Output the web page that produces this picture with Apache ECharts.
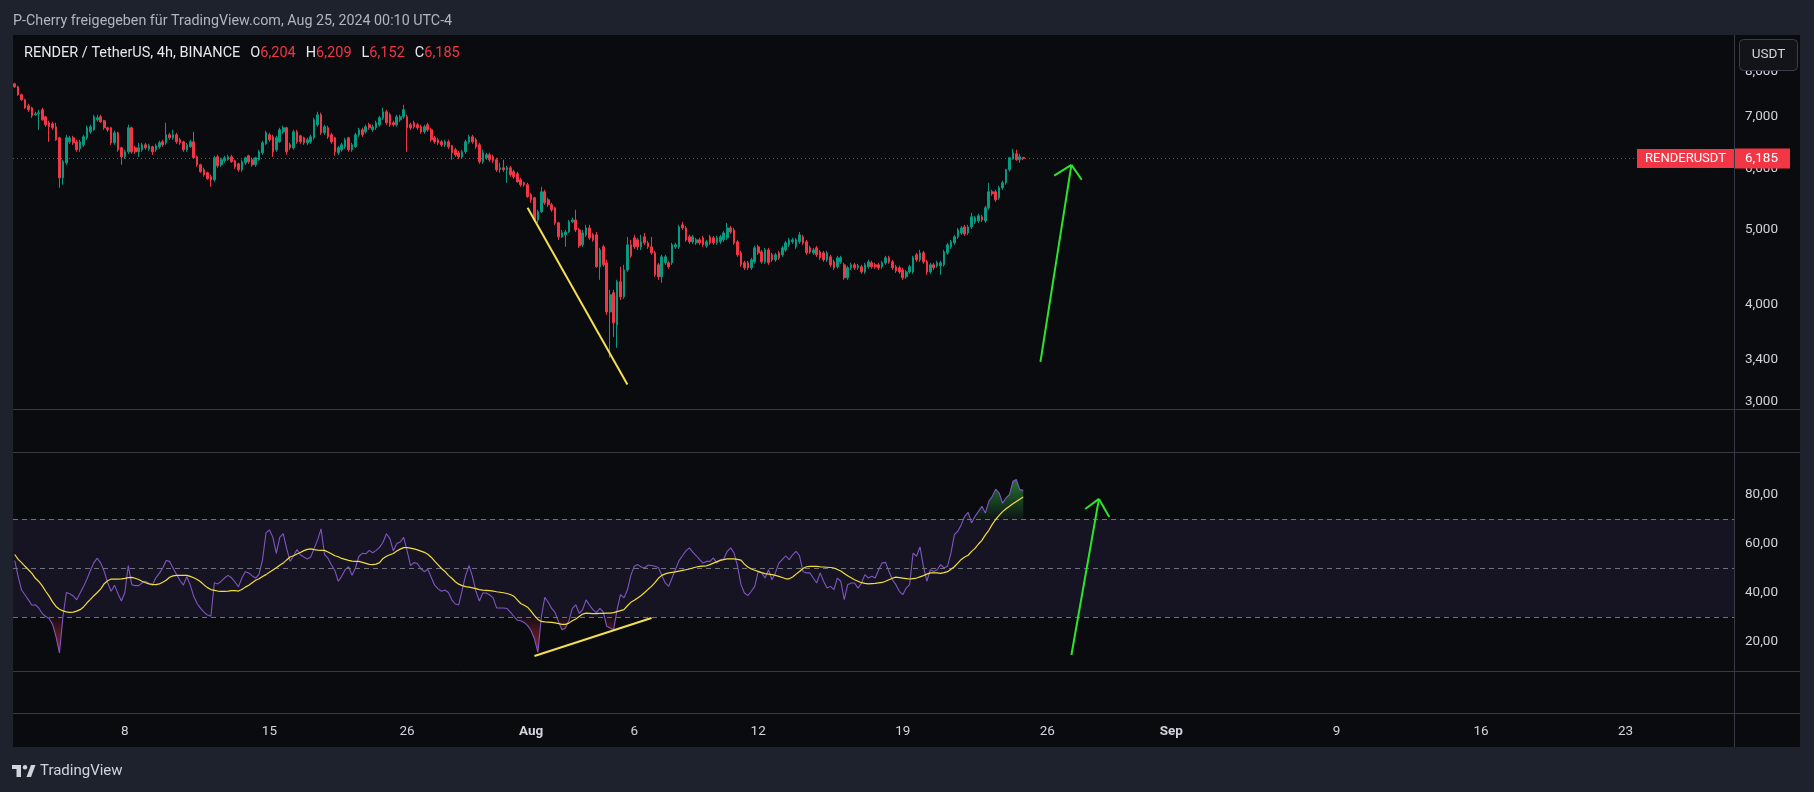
<!DOCTYPE html>
<html><head><meta charset="utf-8">
<script src="https://cdn.jsdelivr.net/npm/echarts@6/dist/echarts.min.js"></script>
<style>html,body{margin:0;padding:0;background:#1e222d;}#c{width:1814px;height:792px;}</style>
</head><body><div id="c"></div>
<script>
// ---------- DATA ----------
// 4h candles [open, high, low, close]
const ohlc = [
[7722,7745,7631,7653],[7653,7676,7453,7475],[7475,7497,7341,7363],[7363,7386,7168,7189],[7232,7275,7105,7147],
[7189,7211,6979,7021],[7042,7105,7021,7063],[7063,7147,6734,7084],[7147,7189,6918,6938],[7000,7021,6795,6836],
[6877,6918,6498,6795],[6856,6897,6734,6775],[6795,6877,6518,6537],[6576,6596,5669,5839],[5839,6160,5719,6123],
[6105,6635,6068,6576],[6498,6615,6460,6576],[6576,6615,6440,6479],[6498,6537,6308,6346],[6364,6537,6308,6498],
[6440,6635,6402,6596],[6576,6816,6537,6775],[6694,6836,6655,6795],[6734,7042,6714,7000],[6938,7042,6897,6979],
[7000,7042,6877,6897],[6918,6938,6734,6775],[6775,6795,6694,6734],[6775,6795,6440,6479],[6479,6714,6440,6674],
[6674,6694,6308,6346],[6383,6402,6068,6215],[6215,6346,6178,6308],[6308,6836,6271,6775],[6775,6795,6271,6308],
[6383,6421,6271,6308],[6308,6479,6215,6383],
[6346,6479,6308,6440],[6440,6479,6346,6383],[6364,6460,6327,6421],[6402,6421,6252,6308],[6346,6460,6308,6421],[6402,6518,6364,6479],[6498,6537,6402,6440],
[6479,6877,6440,6635],[6635,6674,6537,6576],[6576,6734,6537,6635],[6635,6674,6460,6498],[6537,6576,6440,6479],
[6498,6518,6308,6346],[6346,6479,6308,6440],[6402,6537,6383,6498],[6498,6694,6178,6197],[6215,6234,6033,6068],
[6068,6087,5927,5944],[5980,6015,5857,5891],[5927,5944,5805,5822],[5857,5891,5686,5805],[5805,6234,5771,6197],
[6215,6252,6015,6050],[6068,6197,6033,6160],[6142,6234,6105,6197],[6160,6252,6142,6215],[6215,6252,6105,6123],
[6142,6160,5997,6033],[6087,6105,5944,5980],[5980,6160,5944,6123],[6105,6215,6068,6197],[6234,6252,6087,6123],[6160,6197,6033,6068],
[6068,6215,6033,6197],[6160,6346,6142,6308],[6289,6518,6252,6479],[6460,6714,6440,6674],[6635,6674,6498,6537],
[6596,6635,6215,6308],[6346,6615,6308,6576],[6498,6775,6479,6734],[6694,6816,6655,6775],[6775,6795,6252,6308],
[6440,6479,6346,6383],[6383,6734,6346,6694],[6694,6734,6460,6498],[6615,6635,6460,6498],[6576,6596,6440,6479],
[6479,6576,6440,6537],[6498,6635,6460,6596],[6576,6979,6537,6938],[6836,7105,6795,7042],[7042,7084,6635,6674],
[6674,6836,6635,6795],[6775,6816,6556,6596],[6635,6674,6460,6498],[6576,6596,6234,6308],[6289,6421,6252,6383],
[6346,6479,6308,6440],[6402,6576,6364,6537],[6576,6596,6308,6346],[6346,6479,6308,6440],[6402,6674,6383,6635],
[6635,6775,6596,6734],
[6734,6775,6596,6635],[6694,6836,6655,6795],[6836,6877,6734,6775],[6734,6836,6694,6795],[6775,6918,6734,6877],
[6836,7021,6795,6979],[6979,7189,6938,7105],[7105,7147,6836,6877],[7042,7084,6795,6836],[6877,6918,6795,6836],
[6836,7042,6795,7000],[6938,7042,6897,7000],[7000,7253,6959,7147],[7000,7042,6308,6775],[6836,6877,6734,6775],
[6877,6918,6755,6795],[6836,6877,6734,6775],[6795,6836,6655,6694],[6694,6836,6655,6795],[6836,6877,6694,6734],
[6734,6775,6498,6537],[6576,6615,6460,6498],[6537,6576,6440,6479],[6498,6537,6402,6440],[6440,6537,6402,6498],
[6498,6537,6364,6402],[6421,6440,6160,6289],[6346,6383,6215,6252],[6289,6327,6178,6215],[6215,6346,6178,6308],
[6308,6537,6271,6498],[6498,6635,6460,6596],[6596,6635,6460,6498],[6537,6576,6364,6402],
[6440,6479,6087,6123],[6123,6346,6087,6289],[6197,6289,6160,6252],[6252,6289,6123,6160],[6215,6252,6105,6142],
[6160,6197,5944,5980],[5980,6105,5927,6015],[6015,6160,5944,5980],[5980,6050,5753,6015],[6015,6050,5857,5891],
[5944,5980,5822,5857],[5909,5944,5753,5771],[5805,5839,5686,5719],[5753,5771,5686,5719],[5719,5753,5502,5519],
[5552,5584,5420,5468],[5502,5519,5121,5151],[5151,5308,5106,5277],[5277,5686,5261,5600],[5600,5633,5388,5420],
[5468,5502,5356,5388],[5388,5420,5277,5308],[5340,5356,5076,5106],[5106,5121,4854,4898],[4898,5000,4883,4956],
[4927,5000,4754,4970],[4970,5151,4956,5121],[5121,5183,5106,5151],[5151,5308,4970,5000],[5000,5030,4740,4769],
[4783,5000,4754,4956],[4927,5076,4898,5030],[5030,5076,4854,4883],[4927,4956,4826,4854],[4927,4970,4468,4481],
[4481,4740,4310,4711],[4754,4783,4481,4507],[4534,4574,3883,3918],[3918,4183,3420,4122],[4148,4183,3638,3792],
[3769,4310,3521,4285],[4285,4481,4060,4098],[4098,4507,4074,4439],[4439,4898,4413,4783],[4783,4854,4602,4629],
[4883,4927,4726,4754],[4854,4883,4711,4754],[4754,4927,4711,4826],[4898,4956,4783,4811],[4811,4840,4726,4754],
[4754,4898,4643,4670],[4670,4697,4349,4375],[4507,4534,4310,4349],[4349,4643,4272,4615],[4534,4643,4507,4615],
[4534,4561,4455,4481],[4534,4811,4507,4783],[4754,4811,4726,4783],[4754,5076,4726,5045],[5076,5121,5000,5030],
[5030,5060,4826,4854],[4898,4927,4797,4826],[4826,4927,4797,4898],[4811,4883,4783,4854],[4854,4883,4783,4811],
[4883,4912,4754,4783],[4769,4854,4740,4826],[4898,4927,4783,4811],[4883,4912,4783,4811],[4811,4912,4783,4883],
[4826,4927,4797,4898],[4854,4985,4826,4956],[4883,5106,4854,5030],[5030,5060,4941,4970],[5000,5030,4783,4811],
[4826,4854,4615,4643],[4670,4697,4481,4507],[4534,4561,4439,4468],[4534,4561,4439,4468],[4468,4602,4439,4574],
[4547,4769,4520,4740],[4754,4783,4643,4670],[4684,4711,4520,4547],[4547,4740,4520,4711],[4711,4740,4507,4534],
[4643,4670,4547,4574],[4574,4670,4547,4643],[4670,4697,4574,4602],[4643,4769,4615,4740],[4711,4840,4684,4811],
[4783,4883,4754,4854],[4826,4883,4797,4854],[4754,4883,4726,4854],[4826,4970,4797,4927],[4898,4927,4783,4811],
[4826,4854,4643,4670],[4740,4769,4656,4684],[4670,4740,4643,4711],[4740,4769,4615,4643],[4684,4711,4574,4602],
[4670,4697,4547,4574],[4574,4697,4547,4670],[4615,4643,4481,4507],[4547,4574,4439,4468],[4481,4629,4455,4602],
[4547,4629,4520,4602],[4507,4534,4310,4336],[4336,4494,4310,4468],[4468,4534,4439,4507],[4507,4534,4439,4468],
[4468,4520,4439,4494],[4481,4507,4388,4413],[4413,4534,4388,4507],[4481,4574,4455,4547],[4534,4561,4455,4481],
[4507,4534,4455,4481],[4507,4534,4439,4468],[4481,4561,4455,4534],[4534,4629,4507,4602],[4602,4629,4520,4547],
[4547,4574,4439,4468],[4481,4507,4401,4426],[4468,4494,4388,4413],[4439,4468,4310,4336],
[4349,4439,4323,4413],[4413,4507,4388,4481],[4413,4629,4388,4602],[4643,4670,4547,4574],[4574,4711,4547,4670],
[4670,4697,4520,4547],[4547,4574,4375,4413],[4413,4534,4388,4507],[4507,4534,4439,4468],[4494,4561,4468,4534],
[4494,4561,4375,4534],[4507,4711,4481,4684],[4670,4811,4643,4783],[4754,4854,4726,4826],[4811,4927,4783,4898],
[4898,5030,4869,5000],[4956,5060,4927,5030],[5045,5076,4912,4941],[4956,5076,4927,5045],[5045,5261,5015,5199],
[5121,5214,5091,5183],[5136,5246,5106,5214],[5199,5230,5121,5151],[5136,5372,5106,5340],[5340,5753,5308,5600],
[5600,5633,5535,5568],[5600,5633,5436,5468],[5502,5702,5468,5669],[5669,5788,5633,5753],[5753,5997,5719,5980],
[5980,6215,5944,6197],[6178,6364,6160,6289],[6271,6346,6142,6160],[6160,6271,6105,6215],[6204,6209,6152,6185]
];

// RSI (14) values per candle
const rsi = [
53,46.5,41,39,37,34.8,35,33.6,31.4,30.2,
29.4,27,22,15.3,30,40,39.5,38.6,37,39.8,
42.5,45.5,49,52.2,54,52,48.6,44,40.5,43,
39.5,36.5,40,51,43.2,42.8,42.8,43.9,44.6,43.7,
43,46,47.8,50,53.1,52.7,50,47.3,45,43,
46.5,43,38.5,35.5,33.5,32,30.8,30.3,44,43.5,
44.6,46,47,46,44.3,42.3,46,48.5,48,46.8,
45.9,47.5,53.4,64.3,65.6,62.5,56,62.5,64,58,
52.7,54.9,57.5,55.4,54.5,53.7,54.5,58,61.5,66,
55.5,54,51.3,49,44.6,46.6,49.3,50.5,47,50,
54.8,56,55.8,57.2,56.2,57.2,58.4,60.5,64,62,
57,60,60.6,62.5,57,51,52.2,51.8,49.7,48.5,
49.5,46.2,43,41.5,40.5,41,40,37,35.3,35,
41,47,51,46.5,40.5,36.5,39.8,39.8,39,37.8,
33.7,33.7,33.7,33.5,32,30.3,28.7,
28.5,27.8,26.5,24.5,21,15.6,30,38,36,33.5,
31.8,28,24.8,25.5,28.5,33.5,35,31.5,33,37,
34.8,33,31.8,33.5,32,26.2,25.5,24.8,33,39.1,
37.8,41,47,50.7,51.4,50.4,50,51.2,51,50.7,
50.2,47,43.9,42.5,46,49.5,53,55,57,58.2,
56.5,55,
53.4,52,52.7,52.7,54.1,52,53.4,53.7,56.8,58.2,
56.1,50.7,43.2,39.8,38.7,40.5,42.5,48.6,48,45.9,
49.3,45.2,48,52,53.4,55,53.4,55.4,56.8,55,
48.6,48,48,45.9,43.9,48,44.6,41.8,42.5,41.2,
45.9,44.6,37.1,43.2,43.9,43.9,41.8,43.9,47.3,45.9,
46.6,45.9,49.3,52,52.3,48.6,45.2,43.2,40.5,39.1,
41.8,43.2,56.1,54.8,58.6,50.7,44.6,49.3,48.6,49.3,
51.4,50,50.7,56.1,63.6,65,67.7,71.1,72.7,68.4,
71.1,73.1,75.2,72.4,77.2,79.3,82.2,80.6,76.5,78.6,
79.9,85.4,86.1,82,81.7
];

// RSI-based moving average per candle
const rsiMA = [
55.5,53.5,52.2,50.7,49.3,47.8,45.8,44.5,42.7,40.5,
38.5,36.2,34.3,33.2,32.5,32.1,31.9,32,32.4,33,
34.1,35.8,37.2,38.7,40,41.5,43.6,44.8,45.5,45.5,
45.5,45.6,45.8,46.1,46.2,45.8,45.3,44.6,44,43.5,
43.3,43.2,43.5,44.2,45,46.2,46.8,47,47,47,
47,46.6,46,45.3,44.4,43.1,42,41.2,40.9,40.6,
40.5,40.5,40.6,40.8,40.8,40.6,41.2,42.2,43,44,
45,45.6,46.5,47.3,48.3,49.2,50.1,51.1,52,53.3,
54.5,55,55.7,56.3,57.1,57.6,57.8,57.5,57.3,57.2,
57.2,56.5,55.8,55,54.6,53.9,53.5,53.1,52.8,52.7,
52.7,52.3,51.9,51.5,51.4,51.6,52.2,53.9,54.8,55.4,
55.9,56.9,57.7,58.3,58.3,58.1,57.8,57.4,56.9,56.4,
55.6,54.4,52.8,51.3,49.8,48.6,47,45.8,44.4,43.4,
42.8,42.4,42.2,41.9,41.6,41.2,41,40.9,40.8,40.6,
40.3,40.1,39.9,39.6,39.2,38.5,37,
35.5,34.8,34,32.4,30.6,29,28.2,28,27.9,27.8,
27.6,27.3,27,27,27.5,28.5,29.2,30.2,31.2,31.6,
31.5,31.4,31.4,31.5,31.5,31.6,31.6,31.8,32.2,32.6,
33,34.6,36,36.8,37.8,38.8,40,41.3,42.5,44,
45.8,47,47.6,48,48.2,48.4,48.7,49,49.3,49.6,
50,50.4,
50.7,50.8,50.9,51.4,52,52.6,53.1,53.4,53.7,53.7,
53.7,53.5,53.2,51.6,50.4,49.6,49.1,48.6,48.1,47.7,
47.5,47.3,47,46.6,46.1,45.6,45.6,46.3,47.5,48.6,
49.8,50.5,50.7,50.7,50.7,50.5,50.4,50.3,50.2,50,
49.4,48.8,47.8,46.8,46,45.2,44.6,44,43.7,43.5,
43.6,43.7,43.9,44.1,44.6,45.2,45.8,46.3,46.1,45.9,
45.7,45.5,45.7,45.9,46.4,46.9,47.5,48,48,48,
47.8,48.1,48.5,49.5,50.5,52,53.5,54.5,55.2,56.8,
58,59.8,61.3,63.5,65.4,67.8,69.8,71.5,73,74.2,
75.2,76.2,77.1,78.1,79
];

// x axis: bar slots (incl. empty future space) and tick labels
const slotCount = 500;
const xTickIndex = [32, 74, 114, 150, 180, 216, 258, 300, 336, 384, 426, 468];
const xTickText  = ['8','15','26','Aug','6','12','19','26','Sep','9','16','23'];
const xTickBold  = ['Aug','Sep'];

const priceTicks = [3000, 3400, 4000, 5000, 6000, 7000, 8000];
const rsiTicks = [20, 40, 60, 80];
const rsiLevels = [70, 50, 30];

// drawn annotations [barIndex, value]
const priceDivergence = [[149, 5340], [178, 3156]];
const priceArrow = [[298, 3376], [307, 6068], [302, 5875], [310, 5805]]; // tail, tip, left arm, right arm
const rsiDivergence = [[151, 14.1], [185, 29.6]];
const rsiArrow = [[307, 14.5], [315, 78.2], [311, 74.1], [318, 70.8]];

const headerText = 'P-Cherry freigegeben für TradingView.com, Aug 25, 2024 00:10 UTC-4';
const symbolText = 'RENDER / TetherUS, 4h, BINANCE';
const tickerName = 'RENDERUSDT';

// ---------- CHART ----------
const FONT = 'Roboto, "Noto Sans", sans-serif';
const UP = '#089981', DOWN = '#f23645';
const TXT = '#d1d4dc';
const categories = Array.from({length: slotCount}, (_, i) => String(i));
const tickMap = {};
xTickIndex.forEach((ix, k) => { tickMap[ix] = xTickText[k]; });
const fmtPrice = v => Math.round(v).toLocaleString('en-US');
const last = ohlc[ohlc.length - 1];

const chart = echarts.init(document.getElementById('c'));

function seg(a, b, color, width) {
  return [{coord: a, lineStyle: {color: color, width: width, type: 'solid'}}, {coord: b}];
}
const GREEN = '#2be52b', YEL = '#f4e04d';

const xAxes = [0, 1, 2].map(g => ({
  type: 'category', gridIndex: g, data: categories, boundaryGap: true,
  axisLine: {show: false}, axisTick: {show: false}, splitLine: {show: false},
  axisLabel: g === 2 ? {
    show: true, color: TXT, fontSize: 13.5, fontFamily: FONT, margin: 12,
    interval: (idx) => tickMap[idx] !== undefined,
    formatter: (v) => { const t = tickMap[Number(v)]; if (t === undefined) return ''; return xTickBold.includes(t) ? '{b|' + t + '}' : t; },
    rich: {b: {fontWeight: 'bold', color: TXT, fontSize: 13.5, fontFamily: FONT}}
  } : {show: false}
}));

const option = {
  backgroundColor: '#1e222d',
  animation: false,
  textStyle: {fontFamily: FONT},
  grid: [
    {left: 13, top: 35, width: 1721, height: 374},
    {left: 13, top: 452, width: 1721, height: 219},
    {left: 13, top: 671, width: 1721, height: 42}
  ],
  xAxis: xAxes,
  yAxis: [
    {type: 'log', gridIndex: 0, position: 'right', min: 2935, max: 8928, logBase: 10,
     axisLine: {show: false}, axisTick: {show: false}, splitLine: {show: false},
     axisLabel: {customValues: priceTicks, formatter: v => fmtPrice(v), color: TXT, fontSize: 13.5, fontFamily: FONT, margin: 11}},
    {type: 'value', gridIndex: 1, position: 'right', min: 7.96, max: 97.35,
     axisLine: {show: false}, axisTick: {show: false}, splitLine: {show: false},
     axisLabel: {customValues: rsiTicks, formatter: v => Number(v).toFixed(2).replace('.', ','), color: TXT, fontSize: 13.5, fontFamily: FONT, margin: 11}},
    {type: 'value', gridIndex: 2, show: false, min: 0, max: 1}
  ],
  series: [
    {
      type: 'candlestick', xAxisIndex: 0, yAxisIndex: 0, barWidth: '62%',
      data: ohlc.map(([o, h, l, c]) => [o, c, l, h]),
      itemStyle: {color: UP, color0: DOWN, borderColor: UP, borderColor0: DOWN, borderWidth: 1},
      markLine: {
        silent: true, symbol: ['none', 'none'], label: {show: false}, animation: false,
        data: [
          {yAxis: last[3], lineStyle: {type: [1, 3], color: DOWN, width: 1, opacity: 0.85}},
          seg(priceDivergence[0], priceDivergence[1], YEL, 2),
          seg(priceArrow[0], priceArrow[1], GREEN, 2),
          seg(priceArrow[1], priceArrow[2], GREEN, 2),
          seg(priceArrow[1], priceArrow[3], GREEN, 2)
        ]
      }
    },
    {
      type: 'line', xAxisIndex: 1, yAxisIndex: 1, z: 1, stack: 'ob', data: rsi.map(() => 70),
      showSymbol: false, lineStyle: {opacity: 0}, silent: true,
      markArea: {silent: true, itemStyle: {color: 'rgba(126,87,194,0.11)'}, data: [[{yAxis: 30}, {yAxis: 70}]]},
      markLine: {silent: true, symbol: ['none', 'none'], label: {show: false},
        lineStyle: {type: [5, 4], color: '#6f727d', width: 1},
        data: rsiLevels.map(v => ({yAxis: v}))}
    },
    {
      type: 'line', xAxisIndex: 1, yAxisIndex: 1, z: 2, stack: 'ob', data: rsi.map(v => Math.max(v - 70, 0)),
      showSymbol: false, lineStyle: {opacity: 0}, silent: true,
      areaStyle: {opacity: 1, color: new echarts.graphic.LinearGradient(0, 0, 0, 1, [
        {offset: 0, color: 'rgba(60,200,80,0.55)'}, {offset: 1, color: 'rgba(60,200,80,0.06)'}])}
    },
    {
      type: 'line', xAxisIndex: 1, yAxisIndex: 1, z: 1, stack: 'os', data: rsi.map(v => Math.min(v, 30)),
      showSymbol: false, lineStyle: {opacity: 0}, silent: true
    },
    {
      type: 'line', xAxisIndex: 1, yAxisIndex: 1, z: 2, stack: 'os', data: rsi.map(v => 30 - Math.min(v, 30)),
      showSymbol: false, lineStyle: {opacity: 0}, silent: true,
      areaStyle: {opacity: 1, color: new echarts.graphic.LinearGradient(0, 0, 0, 1, [
        {offset: 0, color: 'rgba(242,54,69,0.06)'}, {offset: 1, color: 'rgba(242,54,69,0.6)'}])}
    },
    {
      name: 'RSI', type: 'line', xAxisIndex: 1, yAxisIndex: 1, z: 4, data: rsi,
      showSymbol: false, lineStyle: {color: '#7e57c2', width: 1.1}
    },
    {
      name: 'RSI MA', type: 'line', xAxisIndex: 1, yAxisIndex: 1, z: 5, data: rsiMA,
      showSymbol: false, smooth: false, lineStyle: {color: '#f2de3a', width: 1.2},
      markLine: {
        silent: true, symbol: ['none', 'none'], label: {show: false},
        data: [
          seg(rsiDivergence[0], rsiDivergence[1], YEL, 2),
          seg(rsiArrow[0], rsiArrow[1], GREEN, 2),
          seg(rsiArrow[1], rsiArrow[2], GREEN, 2),
          seg(rsiArrow[1], rsiArrow[3], GREEN, 2)
        ]
      }
    },
    {type: 'line', xAxisIndex: 2, yAxisIndex: 2, data: [], showSymbol: false}
  ]
};
chart.setOption(option);

// overlays
const yLast = chart.convertToPixel({yAxisIndex: 0}, last[3]);
const g = [];
g.push({type: 'rect', z: -10, silent: true, shape: {x: 13, y: 35, width: 1787, height: 712}, style: {fill: '#0a0b0f'}});
[409.5, 452.5, 671.5, 713.5].forEach(y => g.push({type: 'line', z: 20, silent: true,
  shape: {x1: 13, y1: y, x2: 1800, y2: y}, style: {stroke: '#363a45', lineWidth: 1}}));
g.push({type: 'line', z: 20, silent: true, shape: {x1: 1734.5, y1: 35, x2: 1734.5, y2: 747}, style: {stroke: '#363a45', lineWidth: 1}});
g.push({type: 'text', z: 30, silent: true, style: {x: 13, y: 21, text: headerText, fill: '#b2b5be', fontSize: 14.3, fontFamily: FONT, verticalAlign: 'middle'}});
g.push({type: 'text', z: 30, silent: true, style: {
  x: 24, y: 53, verticalAlign: 'middle', fontSize: 14.5, fontFamily: FONT, fill: TXT,
  text: '{w|' + symbolText + '}{s|}{w|O}{r|' + fmtPrice(last[0]) + '}{s|}{w|H}{r|' + fmtPrice(last[1]) + '}{s|}{w|L}{r|' + fmtPrice(last[2]) + '}{s|}{w|C}{r|' + fmtPrice(last[3]) + '}',
  rich: {w: {fill: '#e6e8ee', fontSize: 14.5, fontFamily: FONT}, r: {fill: DOWN, fontSize: 14.5, fontFamily: FONT}, s: {width: 10}}
}});
g.push({type: 'rect', z: 40, silent: true, shape: {x: 1739.5, y: 39.5, width: 58, height: 31, r: 4}, style: {fill: '#121419', stroke: '#3a3e49', lineWidth: 1}});
g.push({type: 'text', z: 41, silent: true, style: {x: 1768.5, y: 55, text: 'USDT', fill: TXT, fontSize: 13.5, fontFamily: FONT, align: 'center', verticalAlign: 'middle'}});
g.push({type: 'rect', z: 40, silent: true, shape: {x: 1637, y: yLast - 9.5, width: 97, height: 19}, style: {fill: DOWN}});
g.push({type: 'text', z: 41, silent: true, style: {x: 1685.5, y: yLast, text: tickerName, fill: '#ffffff', fontSize: 13, fontFamily: FONT, align: 'center', verticalAlign: 'middle'}});
g.push({type: 'rect', z: 40, silent: true, shape: {x: 1735, y: yLast - 10, width: 55, height: 20}, style: {fill: DOWN}});
g.push({type: 'text', z: 41, silent: true, style: {x: 1745, y: yLast, text: fmtPrice(last[3]), fill: '#ffffff', fontSize: 13.5, fontFamily: FONT, verticalAlign: 'middle'}});
g.push({type: 'rect', z: 30, silent: true, shape: {x: 12, y: 765, width: 9, height: 4}, style: {fill: TXT}});
g.push({type: 'rect', z: 30, silent: true, shape: {x: 16.5, y: 765, width: 4.5, height: 12}, style: {fill: TXT}});
g.push({type: 'circle', z: 30, silent: true, shape: {cx: 25, cy: 767.2, r: 2.2}, style: {fill: TXT}});
g.push({type: 'polygon', z: 30, silent: true, shape: {points: [[26.5, 777], [31, 765], [35.5, 765], [31, 777]]}, style: {fill: TXT}});
g.push({type: 'text', z: 30, silent: true, style: {x: 40, y: 771, text: 'TradingView', fill: TXT, fontSize: 15, fontFamily: FONT, verticalAlign: 'middle'}});
chart.setOption({graphic: g});
</script></body></html>
